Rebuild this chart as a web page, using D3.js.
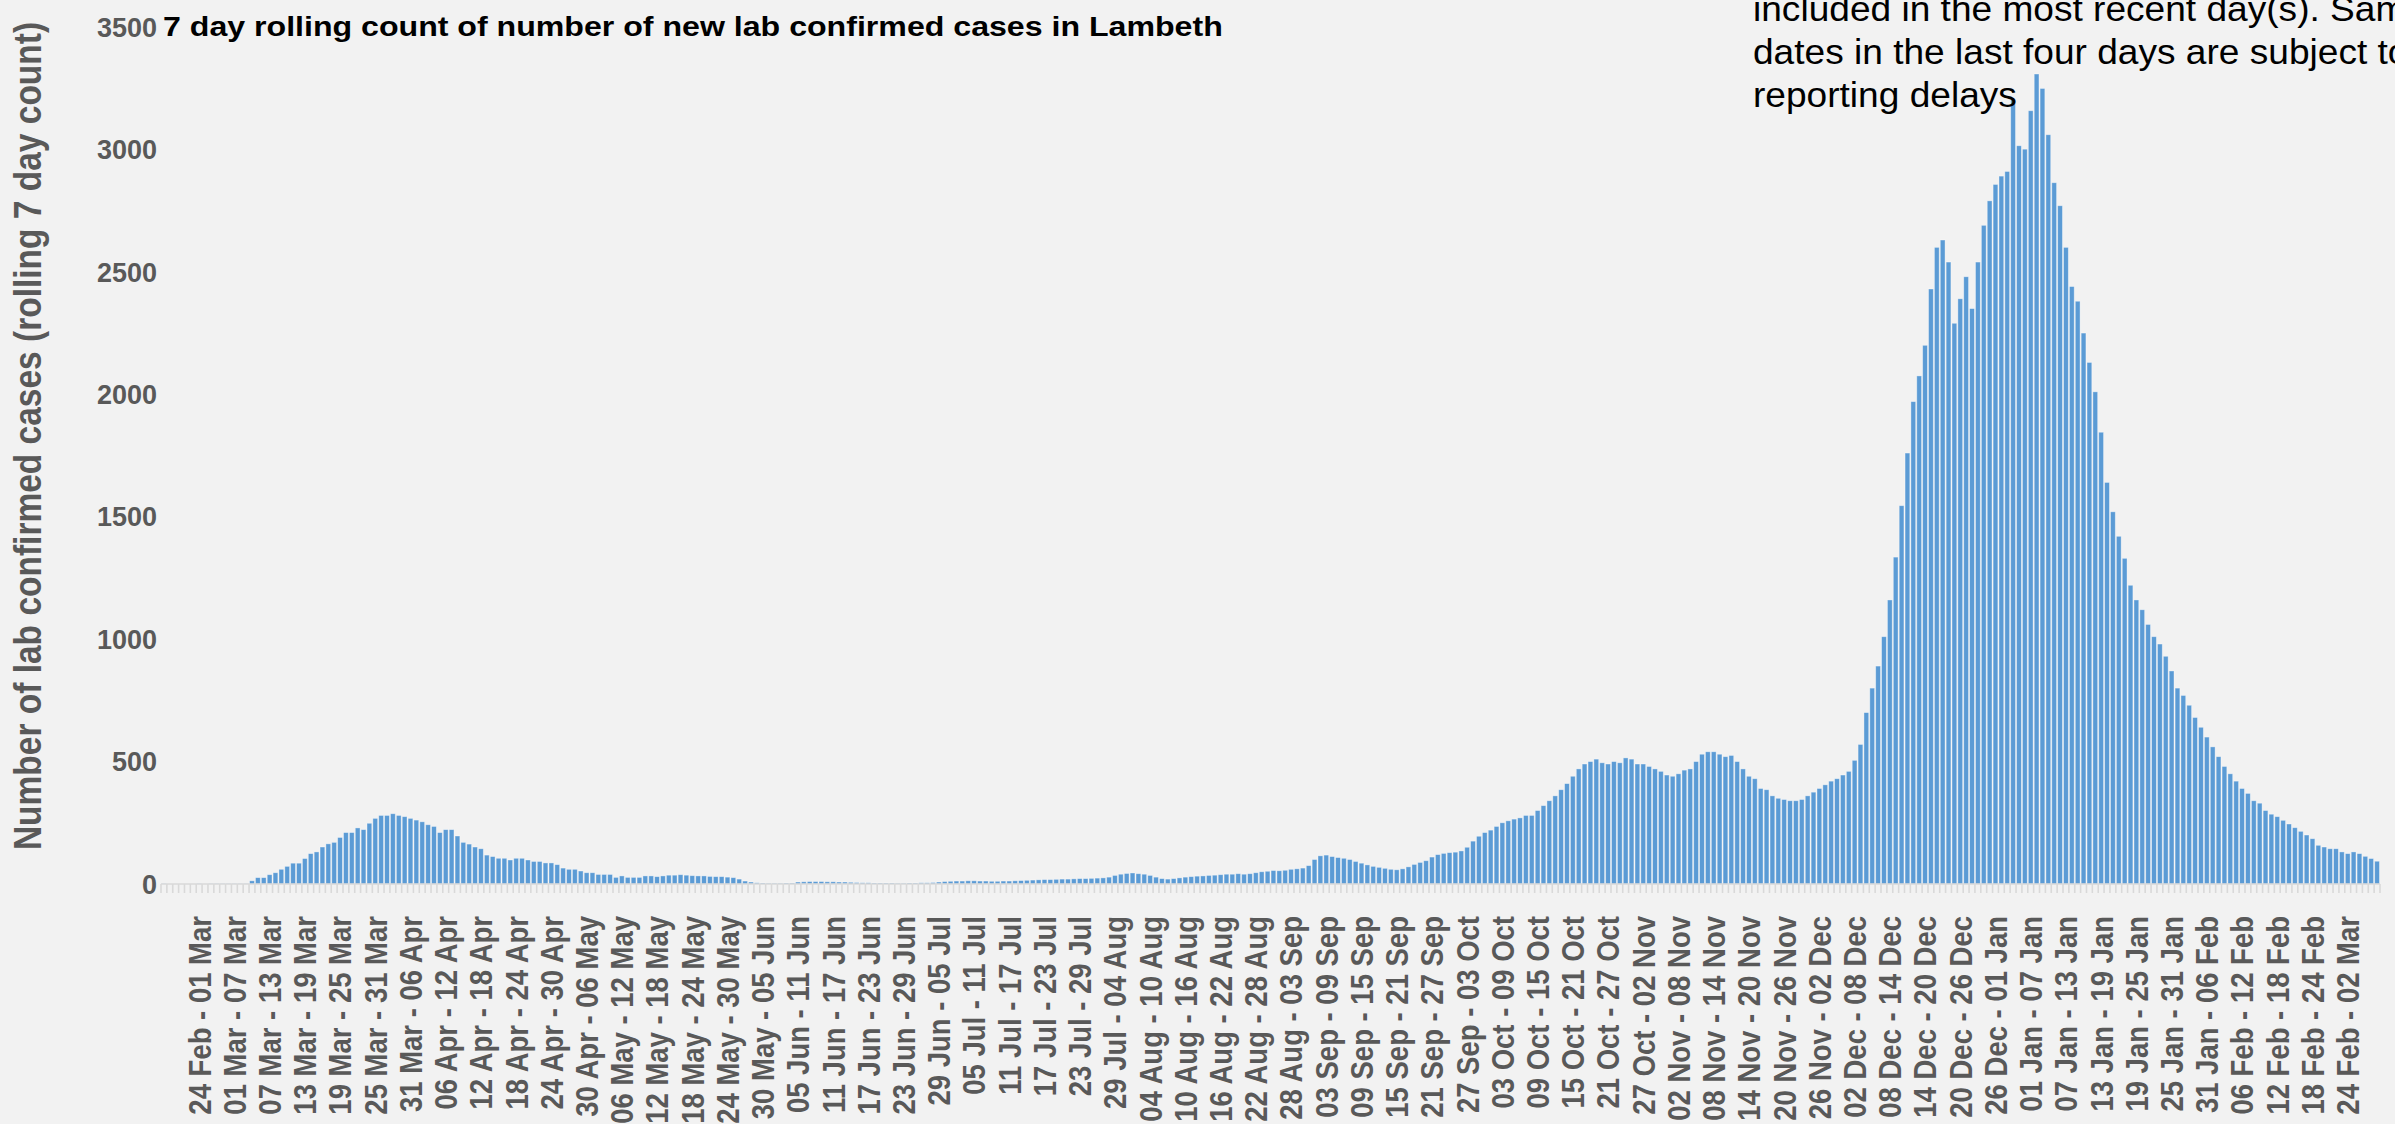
<!DOCTYPE html>
<html><head><meta charset="utf-8">
<script src="https://cdn.jsdelivr.net/npm/d3@7"></script>
<style>html,body{margin:0;padding:0;background:#f2f2f2;overflow:hidden}</style>
</head><body><svg id="c" width="2395" height="1124"></svg>
<script>
const chartTitle = "7 day rolling count of number of new lab confirmed cases in Lambeth";
const yAxisTitle = "Number of lab confirmed cases (rolling 7 day count)";
const noteLines = ["included in the most recent day(s). Sample", "dates in the last four days are subject to", "reporting delays"];
const yTicks = [0, 500, 1000, 1500, 2000, 2500, 3000, 3500];
const tickLabels = ["24 Feb - 01 Mar","01 Mar - 07 Mar","07 Mar - 13 Mar","13 Mar - 19 Mar","19 Mar - 25 Mar","25 Mar - 31 Mar","31 Mar - 06 Apr","06 Apr - 12 Apr","12 Apr - 18 Apr","18 Apr - 24 Apr","24 Apr - 30 Apr","30 Apr - 06 May","06 May - 12 May","12 May - 18 May","18 May - 24 May","24 May - 30 May","30 May - 05 Jun","05 Jun - 11 Jun","11 Jun - 17 Jun","17 Jun - 23 Jun","23 Jun - 29 Jun","29 Jun - 05 Jul","05 Jul - 11 Jul","11 Jul - 17 Jul","17 Jul - 23 Jul","23 Jul - 29 Jul","29 Jul - 04 Aug","04 Aug - 10 Aug","10 Aug - 16 Aug","16 Aug - 22 Aug","22 Aug - 28 Aug","28 Aug - 03 Sep","03 Sep - 09 Sep","09 Sep - 15 Sep","15 Sep - 21 Sep","21 Sep - 27 Sep","27 Sep - 03 Oct","03 Oct - 09 Oct","09 Oct - 15 Oct","15 Oct - 21 Oct","21 Oct - 27 Oct","27 Oct - 02 Nov","02 Nov - 08 Nov","08 Nov - 14 Nov","14 Nov - 20 Nov","20 Nov - 26 Nov","26 Nov - 02 Dec","02 Dec - 08 Dec","08 Dec - 14 Dec","14 Dec - 20 Dec","20 Dec - 26 Dec","26 Dec - 01 Jan","01 Jan - 07 Jan","07 Jan - 13 Jan","13 Jan - 19 Jan","19 Jan - 25 Jan","25 Jan - 31 Jan","31 Jan - 06 Feb","06 Feb - 12 Feb","12 Feb - 18 Feb","18 Feb - 24 Feb","24 Feb - 02 Mar"];
// index of the bar carrying the first label, and label interval (in bars)
const firstLabelBar = 6, labelEvery = 6;
const cases = [
1,0,0,0,0,0,1,0,1,1,
1,1,1,1,1,13,26,26,38,46,
60,72,85,85,104,124,131,151,164,170,
190,210,210,229,222,248,268,280,280,287,
280,275,268,261,254,242,235,210,222,222,
196,170,163,151,144,118,112,105,105,98,
105,105,98,92,92,86,86,79,65,60,
60,53,46,46,39,39,39,27,33,27,
27,27,33,33,30,33,36,36,38,36,
34,33,33,31,30,30,28,26,20,12,
8,5,4,3,3,3,4,4,8,9,
10,10,10,9,9,8,8,7,6,5,
5,4,4,4,4,3,3,4,4,5,
5,6,8,10,11,12,12,13,13,12,
12,11,11,12,12,13,14,15,16,17,
18,18,19,20,20,21,22,22,23,24,
25,28,35,40,43,45,42,40,35,28,
22,20,22,25,28,30,32,33,35,36,
38,40,40,42,40,42,46,50,52,55,
54,56,60,62,65,75,100,115,118,112,
108,105,100,92,85,78,72,68,64,60,
58,62,70,80,88,95,110,120,125,128,
130,135,150,175,195,210,220,235,250,258,
265,270,280,280,300,320,340,360,385,410,
440,470,490,500,510,495,490,500,495,515,
510,490,490,480,470,460,445,440,450,465,
470,500,530,540,540,530,520,525,500,470,
440,430,390,385,360,350,345,340,340,345,
360,375,390,405,420,430,445,460,505,570,
700,800,890,1010,1160,1335,1545,1760,1970,2075,
2200,2430,2600,2630,2540,2290,2390,2480,2350,2540,
2690,2790,2857,2891,2910,3204,3015,3001,3158,3308,
3249,3060,2864,2770,2600,2440,2380,2250,2130,2010,
1845,1640,1520,1420,1330,1220,1160,1120,1060,1010,
980,930,870,800,770,730,680,640,600,560,
520,480,450,420,390,370,340,330,300,285,
275,260,245,230,215,200,185,158,151,144,
144,131,124,131,124,113,104,93
];

const W = 2395, H = 1124;
const svg = d3.select("#c");
svg.append("rect").attr("width", W).attr("height", H).attr("fill", "#f2f2f2");

const plot = {left: 161, right: 2380, top: 27, bottom: 884};
const x = d3.scaleBand().domain(d3.range(cases.length)).range([plot.left, plot.right]).padding(0);
const y = d3.scaleLinear().domain([0, 3500]).range([plot.bottom, plot.top]);
const step = x.step();
const font = "'Liberation Sans', Arial, sans-serif";
const grey = "#595959";
const stretch = 1.15; // the reference's text is drawn slightly wider than tall

// bars
const gap = 1.1;
svg.append("g").selectAll("rect").data(cases).join("rect")
  .attr("x", (d, i) => x(i) + gap / 2)
  .attr("width", step - gap)
  .attr("y", d => y(d))
  .attr("height", d => y(0) - y(d))
  .attr("fill", "#5b9bd5")
  .attr("stroke", "rgba(255,255,255,0.45)")
  .attr("stroke-width", 0.8);

// category axis line and tick marks (between categories)
const ax = svg.append("g").attr("stroke", "#d9d9d9").attr("stroke-width", 1.6);
ax.append("line").attr("x1", plot.left).attr("x2", plot.right).attr("y1", y(0)).attr("y2", y(0));
ax.selectAll("line.t").data(d3.range(cases.length + 1)).join("line").attr("class", "t")
  .attr("x1", i => plot.left + i * step).attr("x2", i => plot.left + i * step)
  .attr("y1", y(0)).attr("y2", y(0) + 9);

// y tick labels
svg.append("g").selectAll("text").data(yTicks).join("text")
  .attr("x", 157).attr("y", d => y(d)).attr("dy", "0.36em")
  .attr("text-anchor", "end")
  .attr("font-family", font).attr("font-weight", "bold").attr("font-size", 27)
  .attr("fill", grey).text(d => d);

// x tick labels
svg.append("g").selectAll("text").data(tickLabels).join("text")
  .attr("transform", (d, k) => `translate(${x(firstLabelBar + k * labelEvery) + step / 2},916) scale(${stretch},1) rotate(-90)`)
  .attr("dy", "0.36em")
  .attr("text-anchor", "end")
  .attr("font-family", font).attr("font-weight", "bold").attr("font-size", 27.5)
  .attr("fill", grey).text(d => d);

// y axis title
svg.append("text")
  .attr("transform", `translate(27,436) scale(${stretch},1) rotate(-90)`)
  .attr("dy", "0.36em").attr("text-anchor", "middle")
  .attr("font-family", font).attr("font-weight", "bold").attr("font-size", 33.5)
  .attr("fill", grey).text(yAxisTitle);

// chart title
svg.append("text").attr("transform", `translate(163,36) scale(1.19,1)`)
  .attr("font-family", font).attr("font-weight", "bold").attr("font-size", 27)
  .attr("fill", "#000").text(chartTitle);

// note text box
svg.append("g").selectAll("text").data(noteLines).join("text")
  .attr("transform", (d, i) => `translate(1753,${21 + i * 43}) scale(1.06,1)`)
  .attr("font-family", font).attr("font-size", 35)
  .attr("fill", "#000").text(d => d);
</script></body></html>
